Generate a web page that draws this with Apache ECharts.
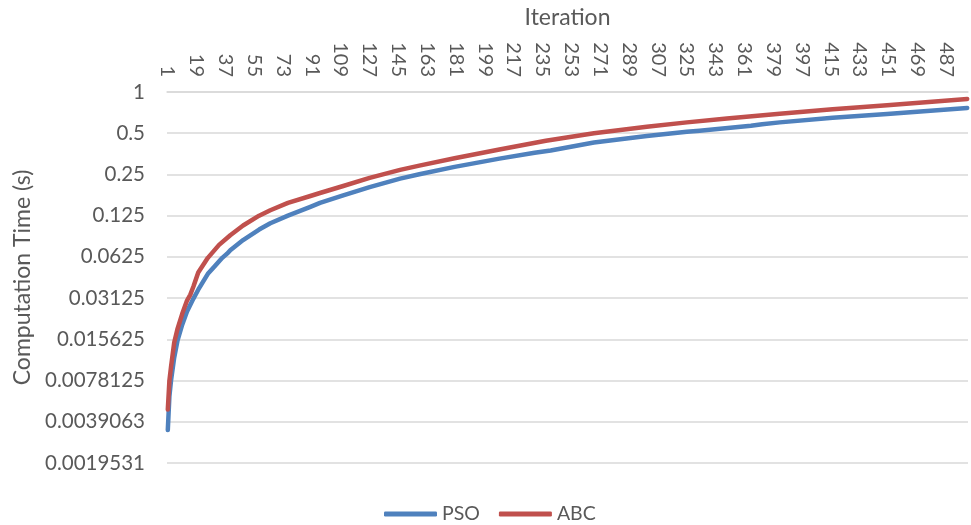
<!DOCTYPE html>
<html><head><meta charset="utf-8">
<script src="https://cdn.jsdelivr.net/npm/echarts@6/dist/echarts.min.js"></script>
<style>html,body{margin:0;padding:0;background:#fff}#c{width:971px;height:525px}</style>
</head><body><div id="c"></div>
<script>
// ---- data ----
const iterationCount = 500;
const categories = [];
for (let i = 1; i <= iterationCount; i++) categories.push(String(i));

const yTickValues = [0.001953125, 0.00390625, 0.0078125, 0.015625, 0.03125, 0.0625, 0.125, 0.25, 0.5, 1];

const psoIterations = [1, 2, 3, 5, 7, 10, 13, 17, 20, 26, 30, 35, 38, 40, 48, 58, 65, 76, 90, 96, 110, 127, 146, 158, 180, 208, 230, 240, 267, 300, 325, 333, 365, 372, 383, 416, 450, 500];
const psoValues     = [0.0034, 0.0060, 0.0078, 0.0115, 0.0152, 0.020, 0.025, 0.031, 0.036, 0.047, 0.053, 0.0615, 0.066, 0.070, 0.083, 0.099, 0.110, 0.125, 0.145, 0.155, 0.175, 0.202, 0.233, 0.251, 0.284, 0.326, 0.360, 0.374, 0.428, 0.478, 0.512, 0.522, 0.566, 0.582, 0.600, 0.648, 0.69, 0.764];

const abcIterations = [1, 2, 3, 5, 7, 10, 13, 15, 17, 20, 26, 33, 40, 48, 58, 65, 76, 90, 96, 110, 127, 146, 158, 180, 208, 237, 267, 300, 325, 350, 383, 416, 450, 500];
const abcValues     = [0.0048, 0.0078, 0.0098, 0.0148, 0.0185, 0.024, 0.030, 0.033, 0.038, 0.048, 0.0615, 0.0765, 0.090, 0.106, 0.125, 0.137, 0.155, 0.174, 0.183, 0.205, 0.236, 0.27, 0.29, 0.328, 0.38, 0.44, 0.50, 0.558, 0.60, 0.64, 0.695, 0.748, 0.80, 0.889];

const seriesNames = ['PSO', 'ABC'];
const seriesColors = ['#4F81BD', '#C0504D'];

// ---- chart ----
const FONT = 'Lato, "Open Sans", sans-serif';
const TXT = '#595959';
function pairs(iters, vals) { return iters.map((it, k) => [it - 1, vals[k]]); }
function fmt(v) {
  const e = Math.round(Math.log2(v));
  return String(parseFloat(Math.pow(2, e).toFixed(7)));
}

const chart = echarts.init(document.getElementById('c'), null, { renderer: 'canvas' });
chart.setOption({
  animation: false,
  backgroundColor: '#fff',
  textStyle: { fontFamily: FONT, color: TXT },
  grid: { left: 167, right: 3, top: 92, bottom: 62, containLabel: false, outerBoundsMode: 'none' },
  xAxis: {
    type: 'category', position: 'top', data: categories, boundaryGap: true,
    name: 'Iteration', nameLocation: 'middle', nameGap: 63,
    nameTextStyle: { color: TXT, fontSize: 23, fontFamily: FONT },
    axisLine: { show: true, lineStyle: { color: '#D9D9D9', width: 1.5 } },
    axisTick: { show: false },
    axisLabel: { interval: 17, rotate: 90, color: TXT, fontSize: 20, fontFamily: FONT, margin: 15 },
    splitLine: { show: false }
  },
  yAxis: {
    type: 'log', logBase: 2, min: yTickValues[0], max: yTickValues[yTickValues.length - 1], splitNumber: yTickValues.length - 1,
    name: 'Computation Time (s)', nameLocation: 'middle', nameGap: 132, nameRotate: 90,
    nameTextStyle: { color: TXT, fontSize: 23, fontFamily: FONT },
    axisLine: { show: false }, axisTick: { show: false },
    splitLine: { show: true, lineStyle: { color: '#D9D9D9', width: 1.5 } },
    axisLabel: { color: TXT, fontSize: 20.5, fontFamily: FONT, margin: 22, formatter: fmt }
  },
  legend: {
    data: seriesNames, left: 379, top: 499, itemWidth: 53, itemHeight: 5, itemGap: 19,
    icon: 'roundRect',
    textStyle: { color: TXT, fontSize: 19.5, fontFamily: FONT }
  },
  series: [
    { name: seriesNames[0], type: 'line', data: pairs(psoIterations, psoValues), showSymbol: false, symbol: 'none',
      color: seriesColors[0], lineStyle: { width: 4.5, color: seriesColors[0], cap: 'round', join: 'round' } },
    { name: seriesNames[1], type: 'line', data: pairs(abcIterations, abcValues), showSymbol: false, symbol: 'none',
      color: seriesColors[1], lineStyle: { width: 4.5, color: seriesColors[1], cap: 'round', join: 'round' } }
  ]
});
</script>
</body></html>
